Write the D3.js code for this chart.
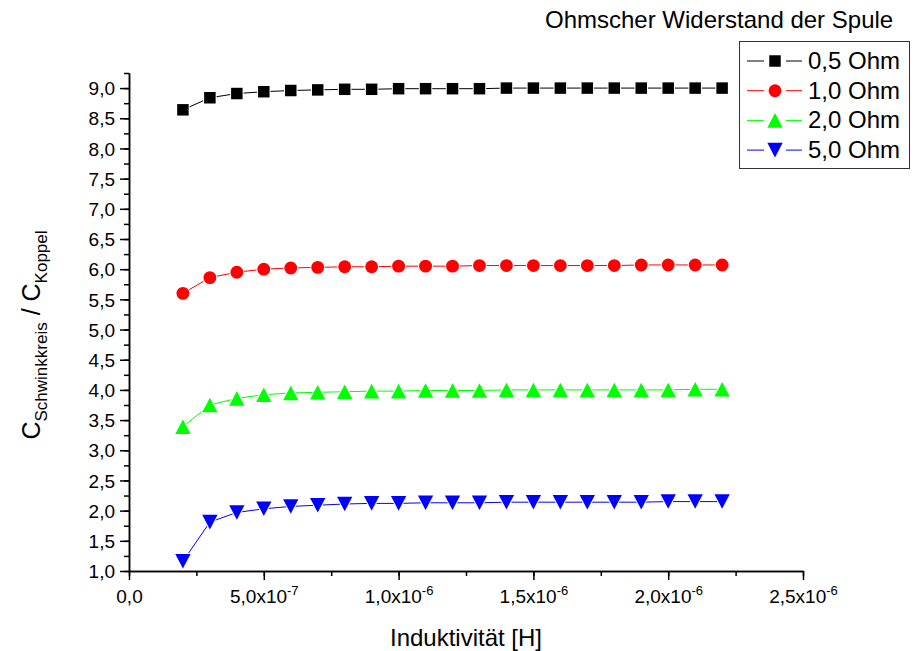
<!DOCTYPE html>
<html>
<head>
<meta charset="utf-8">
<script src="https://cdn.jsdelivr.net/npm/d3@7"></script>
<style>
  body { margin: 0; background: #fff; }
  text { font-family: "Liberation Sans", Arial, sans-serif; }
</style>
</head>
<body>
<div id="chart"></div>
<script>
// inductance values [H]
var induktivitaet = [2e-7, 3e-7, 4e-7, 5e-7, 6e-7, 7e-7, 8e-7, 9e-7, 1.0e-6, 1.1e-6, 1.2e-6,
                     1.3e-6, 1.4e-6, 1.5e-6, 1.6e-6, 1.7e-6, 1.8e-6, 1.9e-6, 2.0e-6, 2.1e-6, 2.2e-6];

var ohm05 = [8.64, 8.84, 8.91, 8.94, 8.96, 8.97, 8.98, 8.98, 8.99, 8.99, 8.99,
             8.99, 9.00, 9.00, 9.00, 9.00, 9.00, 9.00, 9.00, 9.00, 9.00];
var ohm10 = [5.60, 5.86, 5.95, 6.00, 6.02, 6.03, 6.04, 6.04, 6.05, 6.05, 6.05,
             6.06, 6.06, 6.06, 6.06, 6.06, 6.06, 6.07, 6.07, 6.07, 6.07];
var ohm20 = [3.39, 3.75, 3.86, 3.92, 3.95, 3.96, 3.97, 3.98, 3.98, 3.99, 3.99,
             3.99, 4.00, 4.00, 4.00, 4.00, 4.00, 4.00, 4.00, 4.01, 4.01];
var ohm50 = [1.16, 1.81, 1.97, 2.03, 2.07, 2.09, 2.11, 2.12, 2.12, 2.13, 2.13,
             2.13, 2.14, 2.14, 2.14, 2.14, 2.14, 2.14, 2.15, 2.15, 2.15];

var seriesNames = ["0,5 Ohm", "1,0 Ohm", "2,0 Ohm", "5,0 Ohm"];
var seriesColors = ["#000000", "#ff0000", "#00ff00", "#0000ff"];

var xTicks = [0, 5e-7, 1e-6, 1.5e-6, 2e-6, 2.5e-6];
var xTickMantissa = ["0,0", "5,0x10", "1,0x10", "1,5x10", "2,0x10", "2,5x10"];
var xTickExponent = ["", "-7", "-6", "-6", "-6", "-6"];
var yTicks = [1.0, 1.5, 2.0, 2.5, 3.0, 3.5, 4.0, 4.5, 5.0, 5.5, 6.0, 6.5, 7.0, 7.5, 8.0, 8.5, 9.0];

var width = 917, height = 651;
var margin = { left: 129, right: 114, top: 73, bottom: 80 };
var font = '"Liberation Sans", Arial, sans-serif';

var svg = d3.select('#chart').append('svg')
    .attr('width', width)
    .attr('height', height)
    .style('background', '#fff');

var x = d3.scaleLinear().domain([0, 2.5e-6]).range([margin.left, width - margin.right]);
var y = d3.scaleLinear().domain([1, 9.25]).range([height - margin.bottom, margin.top]);

// custom triangles, centered on their bounding box like Origin does
function triangle(down) {
    return {
        draw: function(ctx, size) {
            var w = Math.sqrt(size), h = w * 0.95, s = down ? -1 : 1;
            ctx.moveTo(0, -s * h / 2);
            ctx.lineTo(w / 2, s * h / 2);
            ctx.lineTo(-w / 2, s * h / 2);
            ctx.closePath();
        }
    };
}
var symbolTypes = [d3.symbolSquare, d3.symbolCircle, triangle(false), triangle(true)];
var symbolSizes = [132, 130, 235, 235];

// draws a marker with a thin white halo so the line stops short of it
function marker(sel, s) {
    sel.attr('d', d3.symbol().type(symbolTypes[s]).size(symbolSizes[s]))
        .attr('fill', seriesColors[s])
        .attr('stroke', '#fff')
        .attr('stroke-width', 2)
        .style('paint-order', 'stroke');
}

// axes
var minorX = d3.range(0, 11).map(function(i) { return i * 2.5e-7; });
var minorY = d3.range(0, 34).map(function(i) { return 1 + i * 0.25; });

var xAxisG = svg.append('g')
    .attr('transform', 'translate(0,' + (height - margin.bottom) + ')');
xAxisG.append('g')
    .call(d3.axisBottom(x).tickValues(minorX).tickSize(5).tickFormat('').tickSizeOuter(0));
var xMajor = xAxisG.append('g')
    .call(d3.axisBottom(x).tickValues(xTicks).tickSize(9).tickSizeOuter(0).tickFormat(''));

xMajor.selectAll('.tick').append('text')
    .attr('fill', '#000')
    .attr('y', 32)
    .attr('text-anchor', 'middle')
    .style('font-size', '19px')
    .style('font-family', font)
    .each(function(d, i) {
        var t = d3.select(this);
        t.append('tspan').text(xTickMantissa[i]);
        if (xTickExponent[i]) {
            t.append('tspan').attr('dy', -8).style('font-size', '13px').text(xTickExponent[i]);
        }
    });

var yAxisG = svg.append('g')
    .attr('transform', 'translate(' + margin.left + ',0)');
yAxisG.append('g')
    .call(d3.axisLeft(y).tickValues(minorY).tickSize(5).tickFormat('').tickSizeOuter(0));
yAxisG.append('g')
    .call(d3.axisLeft(y).tickValues(yTicks).tickSize(9).tickSizeOuter(0).tickPadding(5)
        .tickFormat(function(d) { return d3.format('.1f')(d).replace('.', ','); }))
    .selectAll('text')
    .attr('dy', '0.35em')
    .style('font-size', '19px')
    .style('font-family', font);

svg.selectAll('.domain').attr('stroke-width', 1.5);
svg.selectAll('.tick line').attr('stroke-width', 1.5);

// axis titles
svg.append('text')
    .attr('x', (x(0) + x(2.5e-6)) / 2)
    .attr('y', 646)
    .attr('text-anchor', 'middle')
    .style('font-size', '24px')
    .text('Induktivität [H]');

var yTitle = svg.append('text')
    .attr('transform', 'translate(40,335) rotate(-90)')
    .attr('text-anchor', 'middle')
    .style('font-size', '25px');
yTitle.append('tspan').text('C');
yTitle.append('tspan').attr('dy', 7).style('font-size', '17px').text('Schwinkkreis');
yTitle.append('tspan').attr('dy', -7).text(' / C');
yTitle.append('tspan').attr('dy', 7).style('font-size', '17px').text('Koppel');

// series
var allSeries = [ohm05, ohm10, ohm20, ohm50];
var line = d3.line()
    .x(function(d, i) { return x(induktivitaet[i]); })
    .y(function(d) { return y(d); });

allSeries.forEach(function(values, s) {
    var g = svg.append('g').attr('class', 'series');
    g.append('path')
        .datum(values)
        .attr('fill', 'none')
        .attr('stroke', seriesColors[s])
        .attr('stroke-width', 1)
        .attr('d', line);
    g.selectAll('path.marker')
        .data(values)
        .enter().append('path')
        .attr('class', 'marker')
        .attr('transform', function(d, i) { return 'translate(' + x(induktivitaet[i]) + ',' + y(d) + ')'; })
        .call(marker, s);
});

// legend
svg.append('text')
    .attr('x', 545)
    .attr('y', 28)
    .style('font-size', '24px')
    .text('Ohmscher Widerstand der Spule');

var legend = svg.append('g');
legend.append('rect')
    .attr('x', 739.5).attr('y', 41.5)
    .attr('width', 170).attr('height', 127)
    .attr('fill', '#fff')
    .attr('stroke', '#333')
    .attr('stroke-width', 1);

seriesNames.forEach(function(name, s) {
    var cy = 61 + s * 29.7;
    var row = legend.append('g');
    [[747, 764], [786, 802]].forEach(function(seg) {
        row.append('line')
            .attr('x1', seg[0]).attr('x2', seg[1])
            .attr('y1', cy).attr('y2', cy)
            .attr('stroke', seriesColors[s])
            .attr('stroke-width', 1);
    });
    row.append('path')
        .attr('transform', 'translate(775,' + cy + ')')
        .call(marker, s);
    row.append('text')
        .attr('x', 808)
        .attr('y', cy + 8)
        .style('font-size', '24px')
        .text(name);
});
</script>
</body>
</html>
